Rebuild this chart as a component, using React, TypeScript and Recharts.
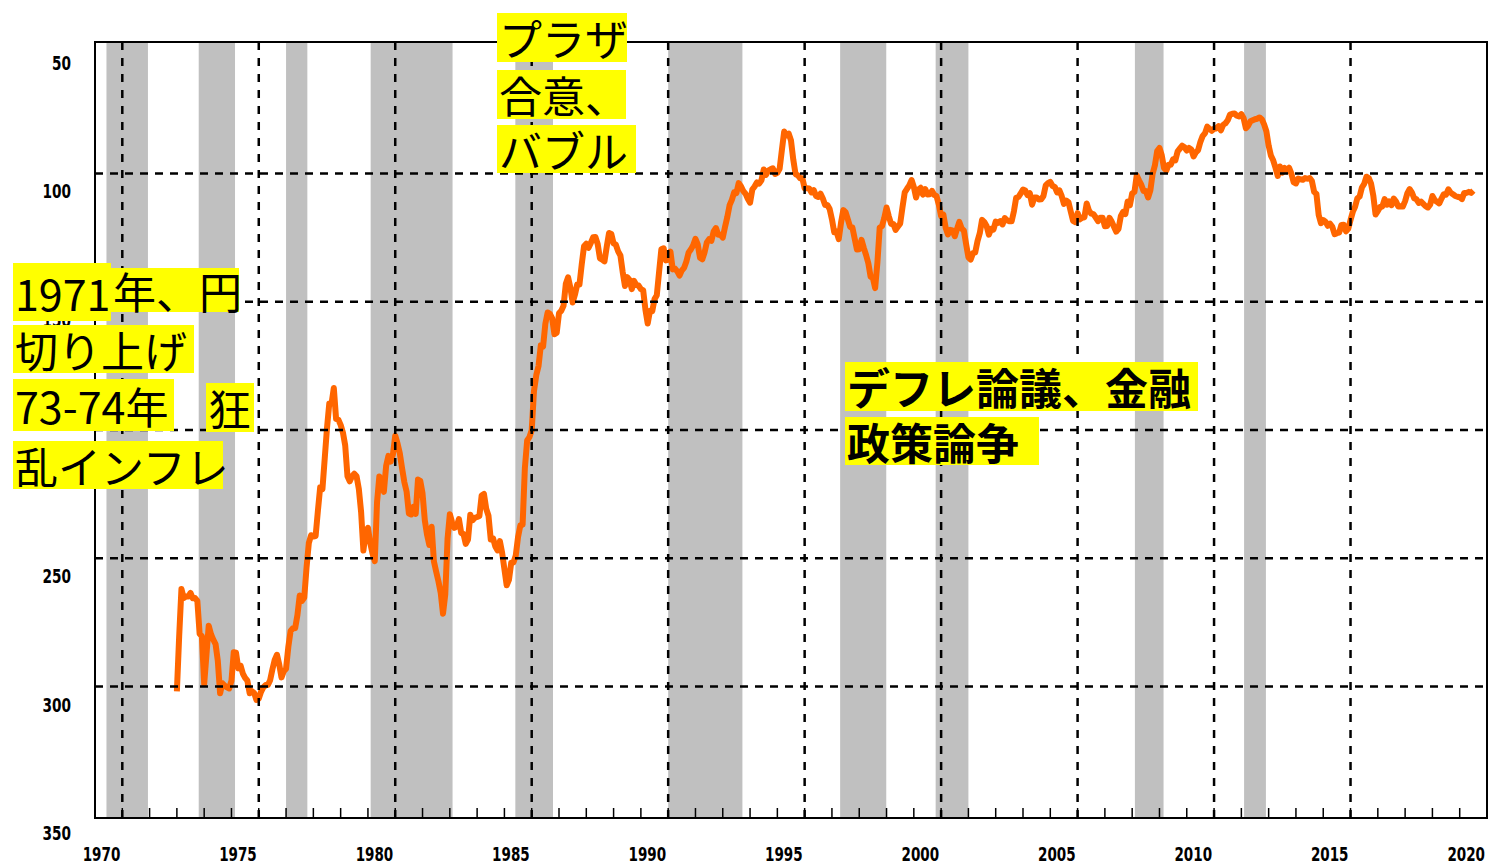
import React from "react";
import { ComposedChart, Line, XAxis, YAxis, ReferenceArea, ReferenceLine } from "recharts";

// USD/JPY monthly average (yen per dollar), Jan 1973 onward
const START_YEAR = 1973;
const usdJpy1970s = [
  301.9, 280.5, 262.0, 265.5, 264.9, 264.9, 263.5, 265.6, 265.5, 266.6, 279.4, 280.4,
  299.0, 287.6, 276.3, 279.6, 281.7, 283.4, 290.0, 302.6, 298.7, 299.6, 300.3, 300.7,
  297.7, 286.6, 286.8, 292.9, 291.8, 294.9, 296.6, 297.7, 302.6, 301.8, 302.5, 305.2,
  304.7, 302.0, 300.3, 299.4, 299.4, 297.5, 293.3, 289.6, 287.6, 291.4, 296.4, 294.0,
  293.0, 284.5, 278.3, 277.3, 277.3, 272.1, 264.5, 266.6, 265.3, 253.7, 244.1, 241.0,
  241.5, 241.3, 231.5, 222.3, 223.0, 211.1, 199.2, 189.7, 189.7, 183.6, 195.7, 196.0,
  198.0, 201.0, 206.0, 218.0, 220.0, 218.0, 217.0, 218.0, 223.0, 232.0, 247.0, 240.0,
];
const usdJpy1980s = [
  238.1, 244.0, 248.1, 251.1, 228.2, 218.1, 220.3, 224.1, 214.0, 210.1, 212.3, 209.5,
  202.2, 205.2, 209.0, 214.9, 220.3, 224.0, 232.5, 232.9, 229.9, 232.7, 219.3, 219.8,
  224.7, 235.2, 240.9, 244.8, 237.7, 251.2, 255.2, 259.0, 263.5, 271.6, 264.1, 242.4,
  232.8, 236.0, 238.1, 237.6, 234.7, 240.1, 240.5, 244.4, 242.7, 233.0, 235.2, 234.2,
  233.9, 233.5, 225.5, 224.9, 230.7, 233.4, 242.7, 242.2, 245.4, 246.9, 243.3, 247.9,
  254.2, 260.5, 258.4, 251.7, 251.6, 248.9, 241.7, 237.2, 236.9, 214.8, 204.1, 202.8,
  200.1, 184.8, 178.7, 175.1, 167.0, 167.5, 158.6, 154.2, 154.7, 156.5, 162.7, 162.1,
  154.5, 153.5, 151.6, 143.0, 140.5, 144.5, 150.3, 147.3, 143.3, 143.3, 135.4, 128.4,
  127.4, 129.0, 127.1, 124.9, 124.8, 127.5, 133.1, 133.6, 134.3, 128.5, 123.2, 123.6,
  127.3, 127.8, 130.4, 132.0, 138.4, 143.9, 140.4, 141.5, 145.1, 141.9, 143.5, 143.7,
];
const usdJpy1990s = [
  145.1, 145.5, 153.1, 158.5, 153.5, 153.7, 149.0, 147.5, 138.4, 129.6, 129.2, 133.9,
  133.7, 130.5, 137.4, 137.1, 138.2, 139.8, 137.8, 136.8, 134.3, 130.8, 129.6, 128.0,
  125.5, 127.7, 132.9, 133.5, 130.8, 126.9, 125.6, 126.3, 122.6, 121.3, 123.9, 123.9,
  125.0, 120.8, 117.0, 112.4, 110.3, 107.4, 107.7, 103.8, 105.0, 106.9, 107.9, 109.9,
  111.4, 106.3, 105.1, 103.5, 104.0, 102.7, 98.5, 100.6, 98.9, 98.4, 98.0, 100.2,
  99.8, 98.2, 90.8, 83.7, 85.2, 84.5, 87.2, 94.6, 100.3, 100.7, 101.9, 101.9,
  105.8, 105.8, 105.9, 107.4, 106.5, 108.8, 109.2, 107.9, 109.8, 112.3, 112.3, 113.9,
  117.9, 122.9, 122.7, 125.6, 119.2, 114.3, 115.1, 117.9, 120.9, 121.1, 125.4, 129.7,
  129.6, 125.9, 129.0, 131.8, 135.0, 140.3, 140.7, 144.7, 134.6, 121.1, 120.6, 117.4,
  113.3, 116.7, 119.7, 119.7, 122.0, 120.7, 119.6, 113.3, 107.4, 106.0, 104.7, 102.6,
];
const usdJpy2000s = [
  105.3, 109.4, 106.3, 105.6, 108.3, 106.1, 108.2, 108.1, 106.8, 108.4, 108.9, 112.2,
  116.7, 116.1, 121.2, 123.8, 122.0, 122.2, 124.5, 121.6, 118.9, 121.4, 122.3, 127.6,
  132.7, 133.6, 131.1, 130.8, 126.4, 123.3, 118.1, 119.0, 120.5, 123.9, 121.6, 121.9,
  118.8, 119.3, 118.6, 119.9, 117.4, 118.3, 118.7, 118.7, 114.8, 109.5, 109.2, 107.8,
  106.3, 106.7, 108.5, 107.7, 112.2, 109.4, 109.4, 110.2, 110.1, 108.8, 104.7, 103.8,
  103.3, 104.9, 105.3, 107.4, 106.6, 108.8, 111.9, 110.6, 111.2, 114.9, 118.5, 119.0,
  115.5, 117.9, 117.3, 117.1, 111.7, 114.5, 115.7, 115.9, 117.2, 118.6, 117.3, 117.3,
  120.6, 120.5, 117.3, 118.8, 120.8, 122.7, 121.6, 116.7, 115.0, 115.9, 111.0, 112.4,
  107.8, 107.2, 100.8, 102.7, 104.4, 106.9, 106.9, 109.4, 106.6, 100.1, 96.8, 91.3,
  90.1, 92.9, 97.9, 98.9, 96.6, 96.6, 94.5, 94.9, 91.4, 90.3, 89.2, 89.8,
];
const usdJpy2010s = [
  91.1, 90.1, 90.7, 93.4, 91.8, 90.9, 87.7, 85.4, 84.4, 81.8, 82.6, 83.4,
  82.6, 82.5, 81.6, 83.2, 81.1, 80.5, 79.3, 77.1, 76.8, 76.7, 77.5, 77.8,
  76.9, 78.5, 82.4, 81.4, 79.7, 79.3, 78.9, 78.7, 78.2, 78.9, 80.9, 83.6,
  89.2, 93.1, 94.9, 97.8, 101.0, 97.3, 99.7, 97.9, 99.2, 97.8, 100.1, 103.5,
  103.9, 102.0, 102.3, 102.5, 101.8, 102.1, 101.8, 102.9, 107.2, 108.0, 116.2, 119.4,
  118.2, 118.8, 120.4, 119.6, 120.8, 123.7, 123.3, 123.1, 120.1, 120.0, 122.6, 121.6,
  118.2, 115.0, 113.0, 109.7, 109.0, 105.5, 104.1, 101.3, 101.8, 103.9, 108.6, 116.0,
  114.7, 113.1, 112.9, 110.0, 112.2, 110.9, 112.4, 109.8, 111.0, 112.9, 112.8, 112.9,
  110.8, 107.7, 106.1, 107.5, 109.7, 110.1, 111.5, 111.0, 111.9, 112.8, 113.3, 112.2,
  108.8, 110.4, 111.1, 111.7, 109.8, 108.1, 108.3, 106.2, 107.5, 108.1, 108.8, 109.1,
];
const usdJpy2020 = [109.3, 110.0, 107.6, 107.6, 107.2, 107.6, 106.7];

// Recession periods (shaded), in decimal years
const recessionStart = [1970.42, 1973.8, 1977.0, 1980.1, 1985.4, 1991.0, 1997.3, 2000.8, 2008.1, 2012.1];
const recessionEnd = [1971.94, 1975.13, 1977.78, 1983.1, 1986.78, 1993.72, 1998.99, 2002.0, 2009.15, 2012.9];

// Axis
const xLabels = ["1970", "1975", "1980", "1985", "1990", "1995", "2000", "2005", "2010", "2015", "2020"];
const yTicks = [50, 100, 150, 200, 250, 300, 350];
const hGridValues = [100, 150, 200, 250, 300];
const X_MIN = 1970;
const X_MAX = 2021;
const Y_MIN = 48.8;
const Y_MAX = 351.2;

const data = [usdJpy1970s, usdJpy1980s, usdJpy1990s, usdJpy2000s, usdJpy2010s, usdJpy2020]
  .flat()
  .map((v, i) => ({ t: START_YEAR + i / 12, v }));

const yearTicks: number[] = [];
for (let y = X_MIN; y <= X_MAX; y++) yearTicks.push(y);
// labels are right-aligned at the end of the labelled year
const labelAtTick: Record<number, string> = {};
xLabels.forEach((l) => (labelAtTick[Number(l) + 1] = l));
const vGridYears = xLabels.map((l) => Number(l) + 1).filter((y) => y < X_MAX);

const tickFont = "'DejaVu Sans Condensed', 'DejaVu Sans', sans-serif";

const XTick = (props: any) => {
  const { x, y, payload } = props;
  const label = labelAtTick[payload.value];
  return (
    <g>
      <line x1={x} x2={x} y1={y} y2={y - 10} stroke="#000" strokeWidth={1.5} />
      {label && (
        <text
          x={x - 2}
          y={y + 36}
          textAnchor="end"
          dominantBaseline="central"
          fontFamily={tickFont}
          fontSize={20}
          fontWeight={700}
          fill="#000"
          textLength={label.length * 9.4}
          lengthAdjust="spacingAndGlyphs"
        >
          {label}
        </text>
      )}
    </g>
  );
};

const YTick = (props: any) => {
  const { x, y, payload } = props;
  const label = String(payload.value);
  return (
    <text
      x={x - 24}
      y={y + 18}
      textAnchor="end"
      dominantBaseline="central"
      fontFamily={tickFont}
      fontSize={20}
      fontWeight={700}
      fill="#000"
      textLength={label.length * 9.5}
      lengthAdjust="spacingAndGlyphs"
    >
      {label}
    </text>
  );
};

const Box = ({ left, top, width, height, text, bold }: any) => (
  <div
    style={{
      position: "absolute",
      left,
      top,
      width,
      height,
      lineHeight: `${height}px`,
      background: "#ffff00",
      color: "#000",
      fontFamily: "'Noto Sans CJK JP', sans-serif",
      fontSize: 43,
      fontWeight: bold ? 700 : 400,
      whiteSpace: "nowrap",
      paddingLeft: 2,
      boxSizing: "border-box",
      overflow: "visible",
    }}
  >
    {text}
  </div>
);

export default function App() {
  return (
    <div style={{ position: "absolute", left: 0, top: 0, width: 1490, height: 866, background: "#fff" }}>
      <ComposedChart
        width={1490}
        height={866}
        data={data}
        margin={{ top: 42, right: 3, bottom: 0, left: 0 }}
      >
        <XAxis
          dataKey="t"
          type="number"
          domain={[X_MIN, X_MAX]}
          allowDataOverflow
          ticks={yearTicks}
          interval={0}
          tick={<XTick />}
          tickLine={false}
          tickSize={0}
          tickMargin={0}
          axisLine={{ stroke: "#000", strokeWidth: 2 }}
          height={48}
        />
        <YAxis
          type="number"
          reversed
          domain={[Y_MIN, Y_MAX]}
          allowDataOverflow
          ticks={yTicks}
          interval={0}
          tick={<YTick />}
          tickLine={false}
          tickSize={0}
          tickMargin={0}
          axisLine={{ stroke: "#000", strokeWidth: 2 }}
          width={95}
        />
        {recessionStart.map((s, i) => (
          <ReferenceArea
            key={`r${i}`}
            x1={s}
            x2={recessionEnd[i]}
            y1={Y_MIN}
            y2={Y_MAX}
            fill="#c0c0c0"
            fillOpacity={1}
            stroke="none"
          />
        ))}
        <Line
          type="linear"
          dataKey="v"
          stroke="#ff6600"
          strokeWidth={6}
          strokeLinejoin="round"
          dot={false}
          activeDot={false}
          isAnimationActive={false}
        />
        {vGridYears.map((yr) => (
          <ReferenceLine key={`vx${yr}`} x={yr} stroke="#000" strokeWidth={2.5} strokeDasharray="8 8" />
        ))}
        {hGridValues.map((v) => (
          <ReferenceLine key={`hy${v}`} y={v} stroke="#000" strokeWidth={2.5} strokeDasharray="8 7" />
        ))}
        <ReferenceArea
          x1={X_MIN}
          x2={X_MAX}
          y1={Y_MIN}
          y2={Y_MAX}
          fill="none"
          stroke="#000"
          strokeWidth={2}
        />
      </ComposedChart>

      {/* annotations */}
      <Box left={13} top={263} width={98} height={58} text="1971" />
      <Box left={111} top={268} width={128} height={44} text="年、円" />
      <Box left={13} top={325} width={181} height={48} text="切り上げ" />
      <Box left={13} top={379} width={161} height={52} text="73-74年" />
      <Box left={206} top={383} width={48} height={49} text="狂" />
      <Box left={13} top={441} width={210} height={48} text="乱インフレ" />

      <Box left={497} top={13} width={130} height={49} text="プラザ" />
      <Box left={497} top={70} width={129} height={49} text="合意、" />
      <Box left={497} top={125} width={139} height={48} text="バブル" />

      <Box left={845} top={362} width={353} height={49} text="デフレ論議、金融" bold />
      <Box left={845} top={417} width={194} height={48} text="政策論争" bold />
    </div>
  );
}
